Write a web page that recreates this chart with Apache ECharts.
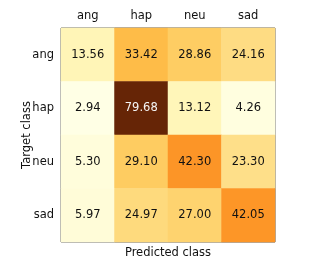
<!DOCTYPE html>
<html><head><meta charset="utf-8">
<script src="https://cdn.jsdelivr.net/npm/echarts@6/dist/echarts.min.js"></script>
<style>html,body{margin:0;padding:0;background:#fff}#c{width:322px;height:266px}</style>
</head><body><div id="c"></div>
<script>
const predictedClasses = ['ang','hap','neu','sad'];
const targetClasses = ['ang','hap','neu','sad'];
const matrix = [
  [13.56, 33.42, 28.86, 24.16],
  [2.94, 79.68, 13.12, 4.26],
  [5.30, 29.10, 42.30, 23.30],
  [5.97, 24.97, 27.00, 42.05]
];
const ylorbr = ['#ffffe5','#fff7bc','#fee391','#fec44f','#fe9929','#ec7014','#cc4c02','#993404','#662506'];
const flat = matrix.flat();
const vmin = Math.min(...flat), vmax = Math.max(...flat);
const data = [];
matrix.forEach((row, i) => row.forEach((v, j) => {
  const dark = v > 60;
  data.push({value: [j, i, v], label: {color: dark ? '#f5f5f5' : '#111111'}});
}));
const font = 'DejaVu Sans';
const fs = 11.5;
const chart = echarts.init(document.getElementById('c'), null, {renderer: 'canvas'});
chart.setOption({
  animation: false,
  grid: {left: 61, top: 28, width: 214, height: 214, show: true, borderColor: '#555', borderWidth: 1, backgroundColor: 'transparent'},
  xAxis: [{
    type: 'category', data: predictedClasses, position: 'top',
    axisLine: {show: false}, axisTick: {show: false}, splitLine: {show: false},
    axisLabel: {fontFamily: font, fontSize: fs, color: '#111', margin: 6}
  }, {
    type: 'category', data: predictedClasses, position: 'bottom',
    axisLine: {show: false}, axisTick: {show: false}, axisLabel: {show: false},
    name: 'Predicted class', nameLocation: 'middle', nameGap: 5,
    nameTextStyle: {fontFamily: font, fontSize: fs, color: '#111'}
  }],
  yAxis: {
    type: 'category', data: targetClasses, inverse: true,
    axisLine: {show: false}, axisTick: {show: false}, splitLine: {show: false},
    axisLabel: {fontFamily: font, fontSize: fs, color: '#111', margin: 7},
    name: 'Target class', nameLocation: 'middle', nameGap: 28, nameRotate: 90, nameMoveOverlap: false,
    nameTextStyle: {fontFamily: font, fontSize: fs, color: '#111'}
  },
  visualMap: {show: false, min: vmin, max: vmax, dimension: 2, inRange: {color: ylorbr}},
  series: [{
    type: 'heatmap', data: data,
    label: {show: true, fontFamily: font, fontSize: fs, formatter: p => p.value[2].toFixed(2)},
    itemStyle: {borderWidth: 0}
  }]
});
</script></body></html>
